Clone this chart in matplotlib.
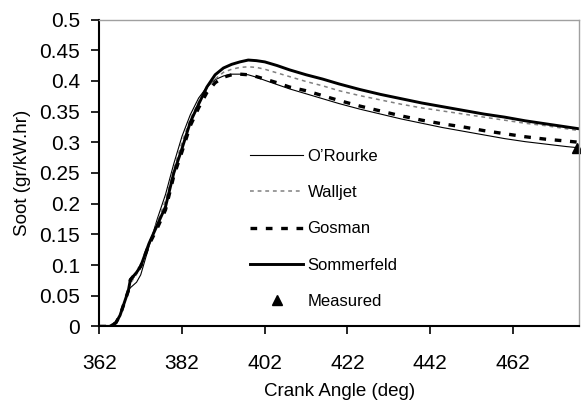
import numpy as np
import matplotlib
matplotlib.use("Agg")
import matplotlib.pyplot as plt

plt.rcParams['font.family'] = ['Liberation Sans', 'DejaVu Sans']

# crank angle (deg) shared by the four simulations
angle = [362, 364.5, 366, 367, 368, 369, 369.5, 370, 371, 372, 374, 376, 378,
         380, 382, 384, 386, 388, 390, 392, 394, 396, 398, 400, 402, 405, 408,
         412, 416, 420, 425, 430, 435, 440, 445, 450, 455, 460, 465, 470, 475, 478]

orourke = [0, 0, 0.006, 0.018, 0.038, 0.058, 0.063, 0.066, 0.072, 0.084, 0.13,
           0.175, 0.215, 0.265, 0.31, 0.345, 0.372, 0.39, 0.402, 0.408, 0.411,
           0.411, 0.41, 0.406, 0.401, 0.394, 0.387, 0.379, 0.371, 0.363, 0.354,
           0.346, 0.338, 0.331, 0.324, 0.318, 0.312, 0.306, 0.301, 0.297, 0.293, 0.291]

walljet = [0, 0, 0.006, 0.018, 0.038, 0.058, 0.07, 0.075, 0.085, 0.097, 0.133,
           0.17, 0.205, 0.257, 0.3, 0.338, 0.366, 0.388, 0.403, 0.414, 0.419,
           0.422, 0.423, 0.422, 0.419, 0.413, 0.407, 0.399, 0.392, 0.384, 0.376,
           0.369, 0.362, 0.356, 0.351, 0.346, 0.341, 0.336, 0.331, 0.327, 0.322, 0.319]

gosman = [0, 0, 0.006, 0.018, 0.038, 0.058, 0.076, 0.08, 0.088, 0.098, 0.133,
          0.16, 0.19, 0.245, 0.285, 0.327, 0.356, 0.381, 0.397, 0.406, 0.41,
          0.411, 0.41, 0.407, 0.403, 0.397, 0.39, 0.384, 0.376, 0.368, 0.359,
          0.351, 0.343, 0.336, 0.33, 0.325, 0.319, 0.314, 0.309, 0.305, 0.302, 0.3]

sommerfeld = [0, 0, 0.006, 0.018, 0.038, 0.058, 0.076, 0.08, 0.088, 0.098, 0.135,
              0.165, 0.195, 0.25, 0.29, 0.333, 0.362, 0.39, 0.41, 0.421, 0.427,
              0.431, 0.434, 0.433, 0.431, 0.425, 0.418, 0.41, 0.403, 0.395, 0.386,
              0.378, 0.371, 0.364, 0.358, 0.352, 0.346, 0.341, 0.335, 0.33, 0.325, 0.322]

measured_angle = [477.5]
measured_soot = [0.29]

xticks = [362, 382, 402, 422, 442, 462]
yticks = [0, 0.05, 0.1, 0.15, 0.2, 0.25, 0.3, 0.35, 0.4, 0.45, 0.5]
ytick_labels = ['0', '0.05', '0.1', '0.15', '0.2', '0.25', '0.3', '0.35', '0.4', '0.45', '0.5']

fig = plt.figure(figsize=(5.81, 4.07), dpi=100)
ax = fig.add_axes([0.171, 0.198, 0.9966 - 0.171, 0.952 - 0.198])

ax.plot(angle, orourke, color='black', lw=0.8, label="O\u2019Rourke")
ax.plot(angle, walljet, color='#808080', lw=1.1, linestyle=(0, (2.5, 2.5)), label='Walljet')
ax.plot(angle, gosman, color='black', lw=2.4, linestyle=(0, (2.0, 2.6)), label='Gosman')
ax.plot(angle, sommerfeld, color='black', lw=2.1, label='Sommerfeld')
ax.plot(measured_angle, measured_soot, linestyle='none', marker='^', color='black',
        markersize=7, clip_on=False, label='Measured')

ax.set_xlim(362, 478)
ax.set_ylim(0, 0.5)
ax.set_xticks(xticks)
ax.set_yticks(yticks)
ax.set_yticklabels(ytick_labels)
ax.tick_params(axis='both', labelsize=15, direction='out', length=6, width=1.2)
ax.tick_params(axis='y', pad=8)
ax.tick_params(axis='x', pad=14)

for s in ['left', 'bottom']:
    ax.spines[s].set_linewidth(1.5)
    ax.spines[s].set_color('black')
for s in ['top', 'right']:
    ax.spines[s].set_linewidth(1.0)
    ax.spines[s].set_color('#a0a0a0')

ax.set_xlabel('Crank Angle (deg)', fontsize=13.5, labelpad=7)
ax.set_ylabel('Soot (gr/kW.hr)', fontsize=13.5, labelpad=6)

ax.legend(loc='upper left', bbox_to_anchor=(250 / 581, 1 - 149 / 407),
          bbox_transform=fig.transFigure, frameon=False, fontsize=12,
          handlelength=3.2, handletextpad=0.25, labelspacing=1.27,
          borderpad=0, borderaxespad=0)

fig.savefig('out.png', dpi=100)
